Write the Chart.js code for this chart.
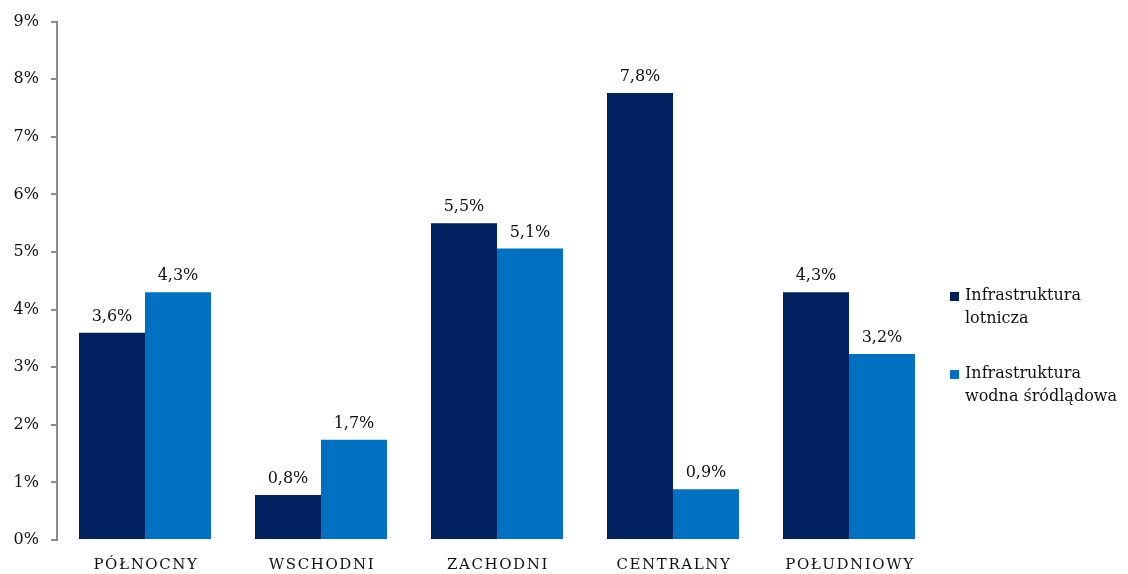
<!DOCTYPE html>
<html>
<head>
<meta charset="utf-8">
<script src="https://cdn.jsdelivr.net/npm/chart.js@4"></script>
<style>
  html,body{margin:0;padding:0;background:#fff;}
  #wrap{width:1128px;height:574px;}
</style>
</head>
<body>
<div id="wrap"><canvas id="c" width="1128" height="574"></canvas></div>
<script>
const regions = ['PÓŁNOCNY','WSCHODNI','ZACHODNI','CENTRALNY','POŁUDNIOWY'];
const lotnicza = [3.6, 0.78, 5.5, 7.76, 4.3];
const wodna = [4.3, 1.74, 5.06, 0.88, 3.23];
const seriesNames = [['Infrastruktura','lotnicza'],['Infrastruktura','wodna śródlądowa']];
const yTicks = [0,1,2,3,4,5,6,7,8,9];

const FONT = '"DejaVu Serif", "Liberation Serif", serif';
const fmt = v => v.toFixed(1).replace('.', ',') + '%';

const valueLabels = {
  id:'valueLabels',
  afterDatasetsDraw(chart){
    const ctx = chart.ctx;
    ctx.save();
    ctx.font = '16px ' + FONT;
    ctx.fillStyle = '#111';
    ctx.textAlign = 'center';
    ctx.textBaseline = 'bottom';
    chart.data.datasets.forEach((ds,i)=>{
      chart.getDatasetMeta(i).data.forEach((bar,j)=>{
        ctx.fillText(fmt(ds.data[j]), bar.x, bar.y - 8);
      });
    });
    ctx.restore();
  }
};

// category names, letter-spaced like the original
const catLabels = {
  id:'catLabels',
  afterDraw(chart){
    const ctx = chart.ctx, xs = chart.scales.x;
    ctx.save();
    ctx.font = '15px ' + FONT;
    ctx.letterSpacing = '1.6px';
    ctx.fillStyle = '#111';
    ctx.textAlign = 'center';
    ctx.textBaseline = 'middle';
    regions.forEach((r,i)=>ctx.fillText(r, xs.getPixelForValue(i) + 1, 565));
    ctx.restore();
  }
};

const sideLegend = {
  id:'sideLegend',
  afterDraw(chart){
    const ctx = chart.ctx;
    ctx.save();
    ctx.font = '16px ' + FONT;
    ctx.textBaseline = 'middle';
    ctx.textAlign = 'left';
    const tops = [296, 374];
    chart.data.datasets.forEach((ds,i)=>{
      ctx.fillStyle = ds.backgroundColor;
      ctx.fillRect(950, tops[i]-4, 9, 9);
      ctx.fillStyle = '#111';
      seriesNames[i].forEach((t,k)=>ctx.fillText(t, 965, tops[i] + k*23));
    });
    ctx.restore();
  }
};

new Chart(document.getElementById('c'), {
  type:'bar',
  data:{
    labels: regions,
    datasets:[
      {label:'Infrastruktura lotnicza', data:lotnicza, backgroundColor:'#002060'},
      {label:'Infrastruktura wodna śródlądowa', data:wodna, backgroundColor:'#0070C0'}
    ]
  },
  options:{
    responsive:false,
    animation:false,
    layout:{ padding:{ top:12, right:191, left:0, bottom:0 } },
    datasets:{ bar:{ categoryPercentage:0.75, barPercentage:1 } },
    plugins:{ legend:{ display:false }, tooltip:{ enabled:false } },
    scales:{
      x:{
        grid:{ display:false },
        border:{ display:false },
        ticks:{ display:false },
        afterFit: s => { s.height = 34; }
      },
      y:{
        min:0, max:9,
        afterBuildTicks: s => { s.ticks = yTicks.map(v=>({value:v})); },
        grid:{ drawOnChartArea:false, drawTicks:true, tickLength:6, color:'#8c8c8c', lineWidth:2 },
        border:{ color:'#8c8c8c', width:2 },
        ticks:{ color:'#111', font:{ family:FONT, size:16 }, padding:12, callback: v => v + '%' },
        afterFit: s => { s.width = 57; }
      }
    }
  },
  plugins:[valueLabels, catLabels, sideLegend]
});
</script>
</body>
</html>
